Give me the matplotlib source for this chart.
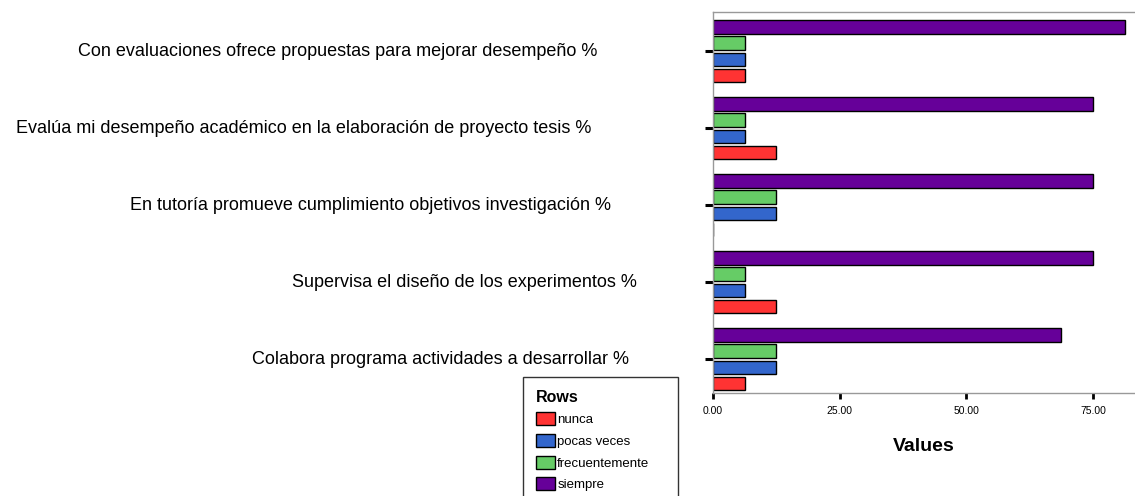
import numpy as np
import matplotlib
matplotlib.use("Agg")
import matplotlib.pyplot as plt
from matplotlib.patches import Patch
from matplotlib import transforms

plt.rcParams['font.family'] = ['Liberation Sans', 'DejaVu Sans']

# Datos (porcentajes), de arriba hacia abajo
preguntas = [
    "Con evaluaciones ofrece propuestas para mejorar desempeño %",
    "Evalúa mi desempeño académico en la elaboración de proyecto tesis %",
    "En tutoría promueve cumplimiento objetivos investigación %",
    "Supervisa el diseño de los experimentos %",
    "Colabora programa actividades a desarrollar %",
]
nunca = [6.25, 12.5, 0.0, 12.5, 6.25]
pocas_veces = [6.25, 6.25, 12.5, 6.25, 12.5]
frecuentemente = [6.25, 6.25, 12.5, 6.25, 12.5]
siempre = [81.25, 75.0, 75.0, 75.0, 68.75]

series = [
    ("siempre", siempre, "#660099"),
    ("frecuentemente", frecuentemente, "#66CC66"),
    ("pocas veces", pocas_veces, "#3366CC"),
    ("nunca", nunca, "#FF3333"),
]
legend_order = ["nunca", "pocas veces", "frecuentemente", "siempre"]

# centro x (px) de cada etiqueta, como en el original
label_cx = [338, 304, 371, 464, 440]

fig = plt.figure(figsize=(11.35, 4.96), dpi=100)
ax = fig.add_axes([713 / 1135, 1 - 393 / 496, 1 - 713 / 1135, (393 - 12) / 496])

y = np.arange(len(preguntas))
paso = 0.211
alto = 0.175
for k, (nombre, vals, color) in enumerate(series):
    ax.barh(y + (k - 1.5) * paso, vals, height=alto, color=color,
            edgecolor="black", linewidth=1.0)

ax.set_xlim(0, 83.3)
ax.set_ylim(4.438, -0.51)
ax.set_xticks([0, 25, 50, 75])
ax.set_xticklabels(["0.00", "25.00", "50.00", "75.00"], fontsize=7.5)
ax.set_yticks(y)
ax.set_yticklabels([])
ax.tick_params(axis="y", length=5.8, width=2.2, color="black")
ax.tick_params(axis="x", length=4.3, width=2.0, color="black", pad=5)

for lado in ["left", "top", "bottom"]:
    ax.spines[lado].set_color("#999999")
    ax.spines[lado].set_linewidth(1.0)
ax.spines["right"].set_visible(False)

ax.set_xlabel("Values", fontsize=14, fontweight="bold", labelpad=16)

trans = transforms.blended_transform_factory(fig.transFigure, ax.transData)
for i, texto in enumerate(preguntas):
    ax.text(label_cx[i] / 1135, y[i], texto, transform=trans, ha="center",
            va="center", fontsize=13, clip_on=False)

colores = {n: c for n, _, c in series}
handles = [Patch(facecolor=colores[n], edgecolor="black", linewidth=1.0, label=n)
           for n in legend_order]
leg = fig.legend(handles=handles, loc="upper left", mode="expand",
                 bbox_to_anchor=(523 / 1135, 1 - 377 / 496, 155 / 1135, 0.0),
                 title="Rows", alignment="left", fontsize=9.5,
                 title_fontproperties={"weight": "bold", "size": 11.5},
                 handlelength=1.5, handleheight=1.15, handletextpad=0.15,
                 labelspacing=0.58, borderpad=0.95, borderaxespad=0.0,
                 fancybox=False, framealpha=1, edgecolor="#333333")
leg.get_frame().set_linewidth(1.0)

fig.savefig("out.png", dpi=100)
